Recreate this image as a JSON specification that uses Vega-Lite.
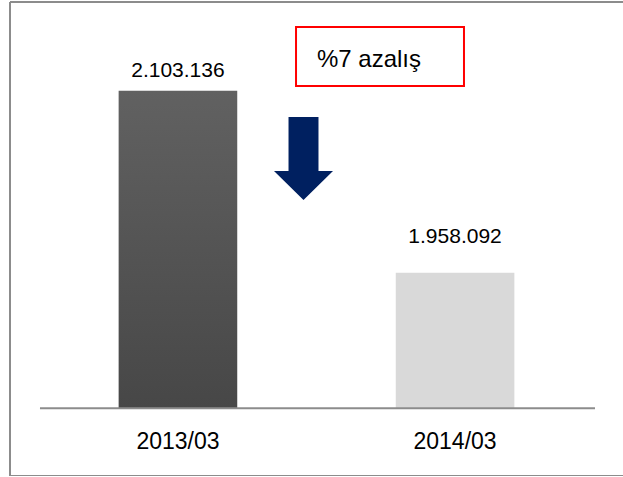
{
  "$schema": "https://vega.github.io/schema/vega-lite/v6.json",
  "autosize": {"type": "none"},
  "padding": {"left": 10, "top": 2, "right": 0, "bottom": 0},
  "width": 613,
  "height": 474,
  "background": "white",
  "config": {
    "view": {"stroke": null},
    "font": "Liberation Sans",
    "locale": {"number": {"decimal": ",", "thousands": ".", "grouping": [3], "currency": ["", " TL"]}}
  },
  "datasets": {
    "bars": [
      {"period": "2013/03", "value": 2103136},
      {"period": "2014/03", "value": 1958092}
    ],
    "box": [{"x": 0.4666, "x2": 0.7406, "y": 2154000, "y2": 2107000, "label": "%7 azalış", "lx": 0.5008, "ly": 2122000}],
    "arrow": [{"x": 0.4788, "y": 2049200}],
    "baseline": [{"x": 0.0489, "x2": 0.9543, "y": 1850000}],
    "frameH": [{"x": 0, "x2": 1, "y": 2174000}, {"x": 0, "x2": 1, "y": 1796000}],
    "frameV": [{"x": 0, "y": 1796000, "y2": 2174000}]
  },
  "layer": [
    {
      "data": {"name": "bars"},
      "encoding": {
        "x": {
          "field": "period",
          "type": "nominal",
          "sort": null,
          "scale": {"paddingInner": 0.572, "paddingOuter": 0.392},
          "axis": {
            "title": null,
            "domain": false,
            "ticks": false,
            "tickSize": 0,
            "grid": false,
            "labelAngle": 0,
            "labelPadding": 0,
            "offset": -46,
            "labelFontSize": 23,
            "labelColor": "#000000",
            "labelFont": "Liberation Sans",
            "labelBaseline": "top"
          }
        }
      },
      "layer": [
        {
          "mark": {"type": "bar"},
          "encoding": {
            "y": {"field": "value", "type": "quantitative", "scale": {"domain": [1796000, 2174000], "zero": false, "nice": false}, "axis": null},
            "y2": {"datum": 1850000},
            "fill": {
              "condition": {
                "test": "datum.period == '2013/03'",
                "value": {"gradient": "linear", "x1": 0, "y1": 0, "x2": 0, "y2": 1, "stops": [{"offset": 0, "color": "#616161"}, {"offset": 1, "color": "#474747"}]}
              },
              "value": "#D9D9D9"
            }
          }
        },
        {
          "transform": [{"filter": "datum.period == '2013/03'"}],
          "mark": {"type": "text", "dy": -14, "baseline": "alphabetic", "fontSize": 21, "color": "#000000"},
          "encoding": {
            "y": {"field": "value", "type": "quantitative"},
            "text": {"field": "value", "type": "quantitative", "format": ",d"}
          }
        },
        {
          "transform": [{"filter": "datum.period == '2014/03'"}],
          "mark": {"type": "text", "dy": -30, "baseline": "alphabetic", "fontSize": 21, "color": "#000000"},
          "encoding": {
            "y": {"field": "value", "type": "quantitative"},
            "text": {"field": "value", "type": "quantitative", "format": ",d"}
          }
        }
      ]
    },
    {
      "layer": [
        {
          "data": {"name": "frameH"},
          "mark": {"type": "rule", "color": "#8c8c8c", "strokeWidth": 2},
          "encoding": {
            "x": {"field": "x", "type": "quantitative", "scale": {"domain": [0, 1], "nice": false, "zero": false}, "axis": null},
            "x2": {"field": "x2"},
            "y": {"field": "y", "type": "quantitative"}
          }
        },
        {
          "data": {"name": "frameV"},
          "mark": {"type": "rule", "color": "#8c8c8c", "strokeWidth": 2},
          "encoding": {
            "x": {"field": "x", "type": "quantitative"},
            "y": {"field": "y", "type": "quantitative"},
            "y2": {"field": "y2"}
          }
        },
        {
          "data": {"name": "baseline"},
          "mark": {"type": "rule", "color": "#8c8c8c", "strokeWidth": 2},
          "encoding": {
            "x": {"field": "x", "type": "quantitative"},
            "x2": {"field": "x2"},
            "y": {"field": "y", "type": "quantitative"}
          }
        },
        {
          "data": {"name": "box"},
          "mark": {"type": "rect", "fill": "white", "stroke": "#ff0000", "strokeWidth": 2},
          "encoding": {
            "x": {"field": "x", "type": "quantitative"},
            "x2": {"field": "x2"},
            "y": {"field": "y", "type": "quantitative"},
            "y2": {"field": "y2"}
          }
        },
        {
          "data": {"name": "box"},
          "mark": {"type": "text", "align": "left", "baseline": "alphabetic", "fontSize": 24, "color": "#000000"},
          "encoding": {
            "x": {"field": "lx", "type": "quantitative"},
            "y": {"field": "ly", "type": "quantitative"},
            "text": {"field": "label"}
          }
        },
        {
          "data": {"name": "arrow"},
          "mark": {
            "type": "point",
            "shape": "M-0.361,-1L0.361,-1L0.361,0.301L0.711,0.301L0,1L-0.711,0.301L-0.361,0.301Z",
            "filled": true,
            "size": 6889,
            "color": "#002060",
            "opacity": 1,
            "strokeWidth": 0
          },
          "encoding": {
            "x": {"field": "x", "type": "quantitative"},
            "y": {"field": "y", "type": "quantitative"}
          }
        }
      ]
    }
  ],
  "resolve": {"scale": {"x": "independent"}}
}
